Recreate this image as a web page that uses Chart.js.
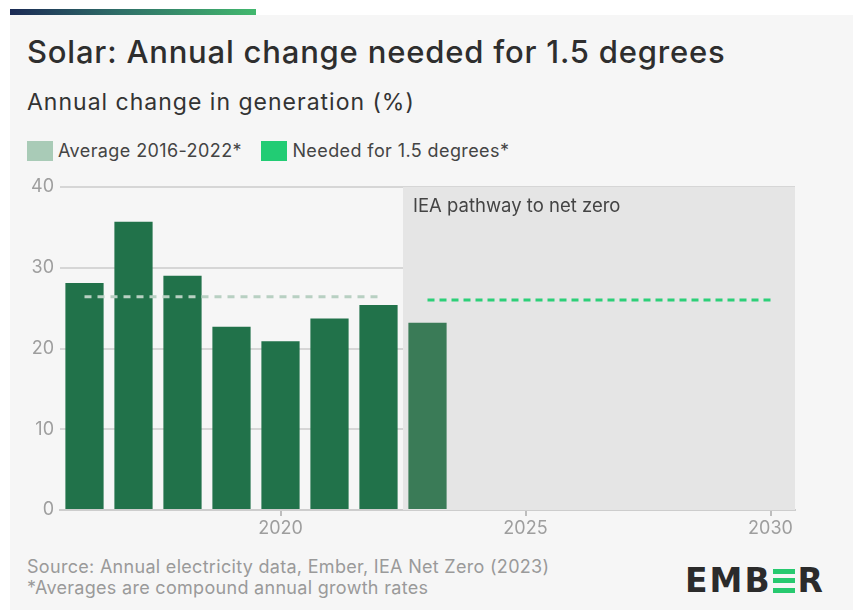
<!DOCTYPE html>
<html>
<head>
<meta charset="utf-8">
<script src="https://cdn.jsdelivr.net/npm/chart.js@4.4.1/dist/chart.umd.min.js"></script>
<style>
  body { margin: 0; background: #fff; width: 853px; height: 610px; position: relative; overflow: hidden; }
  #card { position: absolute; left: 10px; top: 15px; width: 843px; height: 595px; background: #f6f6f6; }
  #topbar { position: absolute; left: 10px; top: 9px; width: 246px; height: 6px; background: linear-gradient(to right, #1b2a55, #2f6f68 45%, #42b86e); }
  #title { position: absolute; left: 27px; top: 33px; font-family: Inter, sans-serif; font-weight: 500; font-size: 31px; letter-spacing: 0.8px; color: #2e2e2e; white-space: nowrap; }
  #subtitle { position: absolute; left: 27px; top: 88px; font-family: Inter, sans-serif; font-size: 23px; letter-spacing: 1px; color: #333; white-space: nowrap; }
  #legend { position: absolute; left: 27px; top: 140px; font-family: Inter, sans-serif; font-size: 18px; letter-spacing: 0.4px; color: #444; white-space: nowrap; }
  .item { display: inline-block; margin-right: 14px; }
  .box { display: inline-block; width: 26px; height: 20px; vertical-align: -4px; margin-right: 5px; }
  #chartwrap { position: absolute; left: 0; top: 170px; width: 853px; height: 370px; }
  #footer { position: absolute; left: 27px; top: 556px; font-family: Inter, sans-serif; font-size: 18px; letter-spacing: 0.3px; line-height: 21px; color: #9a9a9a; white-space: nowrap; }
  #logo { position: absolute; left: 685px; top: 561px; font-family: "DejaVu Sans", sans-serif; font-weight: bold; font-size: 33px; color: #2b2b2b; letter-spacing: 2px; white-space: nowrap; }
  .bars { display: inline-block; width: 22px; height: 24px; margin: 0 3px 0 1px; vertical-align: -1px;
    background: linear-gradient(#27c96f 0 5px, transparent 5px 9.5px, #27c96f 9.5px 14.5px, transparent 14.5px 19px, #27c96f 19px 24px); }
</style>
</head>
<body>
<div id="card"></div>
<div id="topbar"></div>
<div id="title">Solar: Annual change needed for 1.5 degrees</div>
<div id="subtitle">Annual change in generation (%)</div>
<div id="legend">
  <span class="item"><span class="box" style="background:#a9cbb7"></span>Average 2016-2022*</span>
  <span class="item"><span class="box" style="background:#22cc74"></span>Needed for 1.5 degrees*</span>
</div>
<div id="chartwrap"><canvas id="chart"></canvas></div>
<div id="footer">Source: Annual electricity data, Ember, IEA Net Zero (2023)<br>*Averages are compound annual growth rates</div>
<div id="logo">EMB<span class="bars"></span>R</div>
<script>
// Data
const years = [2016, 2017, 2018, 2019, 2020, 2021, 2022, 2023];
const growth = [28.1, 35.7, 29.0, 22.7, 20.9, 23.7, 25.4, 23.2];
const averageYears = [2016, 2022];
const averageValues = [26.4, 26.4];
const neededYears = [2023, 2030];
const neededValues = [26.0, 26.0];
const xTicks = [2020, 2025, 2030];
const yTicks = [0, 10, 20, 30, 40];
const pathwayFrom = 2022.5;
const pathwayTo = 2030.5;
const pathwayLabel = 'IEA pathway to net zero';

function toPoints(xs, ys) {
    return xs.map((x, i) => ({ x: x, y: ys[i] }));
}

// grey box for the IEA pathway, drawn under the bars
const pathwayPlugin = {
    id: 'pathway',
    beforeDatasetsDraw(chart) {
        const ctx = chart.ctx;
        const x = chart.scales.x, y = chart.scales.y;
        const left = x.getPixelForValue(pathwayFrom);
        const right = x.getPixelForValue(pathwayTo);
        const top = y.getPixelForValue(y.max);
        const bottom = y.getPixelForValue(0);
        ctx.save();
        ctx.fillStyle = '#e5e5e5';
        ctx.fillRect(left, top, right - left, bottom - top);
        ctx.fillStyle = '#444';
        ctx.font = '18.5px Inter, sans-serif';
        ctx.textBaseline = 'top';
        ctx.fillText(pathwayLabel, left + 10, top + 10);
        ctx.restore();
    }
};

const ctx = document.getElementById('chart').getContext('2d');
new Chart(ctx, {
    type: 'bar',
    data: {
        datasets: [
            {
                type: 'line',
                data: toPoints(averageYears, averageValues),
                borderColor: '#b8d0c2',
                borderWidth: 3,
                borderDash: [7, 6],
                pointRadius: 0,
                fill: false
            },
            {
                type: 'line',
                data: toPoints(neededYears, neededValues),
                borderColor: '#2dcf78',
                borderWidth: 3,
                borderDash: [7, 5],
                pointRadius: 0,
                fill: false
            },
            {
                type: 'bar',
                data: toPoints(years, growth),
                backgroundColor: years.map(yr => yr === 2023 ? '#3a7b57' : '#21724a'),
                barPercentage: 1,
                categoryPercentage: 0.78
            }
        ]
    },
    options: {
        responsive: true,
        maintainAspectRatio: false,
        animation: false,
        layout: { padding: { top: 17, right: 58, left: 0, bottom: 0 } },
        plugins: { legend: { display: false }, tooltip: { enabled: false } },
        scales: {
            x: {
                type: 'linear',
                min: 2015.5,
                max: 2030.5,
                offset: false,
                afterBuildTicks: (scale) => { scale.ticks = xTicks.map(v => ({ value: v })); },
                afterFit: (scale) => { scale.height = 30; },
                grid: { display: true, offset: false, drawOnChartArea: false, drawTicks: true, tickLength: 6, color: '#bdbdbd', lineWidth: 2 },
                border: { display: true, color: '#cdcdcd', width: 2 },
                ticks: { color: '#9e9e9e', font: { family: 'Inter, sans-serif', size: 18 }, padding: 2, callback: v => String(v) }
            },
            y: {
                min: 0,
                max: 40,
                z: 1,
                afterBuildTicks: (scale) => { scale.ticks = yTicks.map(v => ({ value: v })); },
                afterFit: (scale) => { scale.width = 60; },
                grid: { color: 'rgba(0,0,0,0.13)', lineWidth: 2, drawTicks: false },
                border: { display: false },
                ticks: { color: '#9e9e9e', font: { family: 'Inter, sans-serif', size: 18 }, padding: 6 }
            }
        }
    },
    plugins: [pathwayPlugin]
});
</script>
</body>
</html>
